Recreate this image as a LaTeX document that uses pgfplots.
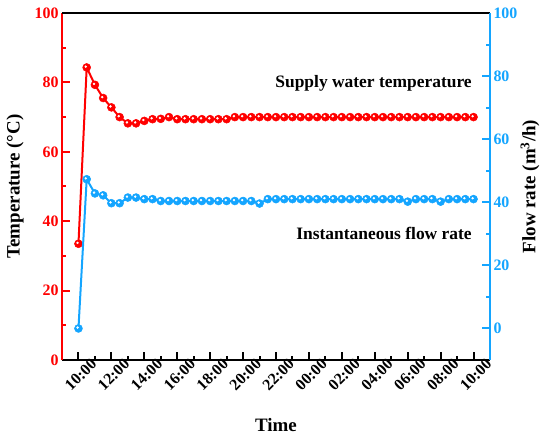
\documentclass[border=0pt]{standalone}
\usepackage{pgfplots}
\pgfplotsset{compat=1.18}
\usepackage{fontspec}
\setmainfont{Liberation Serif}
\definecolor{myred}{RGB}{255,0,0}
\definecolor{myblue}{RGB}{20,165,255}

\pgfplotstableread{
t T
0 33.5
0.5 84.3
1 79.3
1.5 75.5
2 72.8
2.5 70.0
3 68.2
3.5 68.2
4 68.9
4.5 69.4
5 69.5
5.5 70.0
6 69.4
6.5 69.4
7 69.4
7.5 69.4
8 69.4
8.5 69.4
9 69.4
9.5 70.0
10 70.0
10.5 70.0
11 70.0
11.5 70.0
12 70.0
12.5 70.0
13 70.0
13.5 70.0
14 70.0
14.5 70.0
15 70.0
15.5 70.0
16 70.0
16.5 70.0
17 70.0
17.5 70.0
18 70.0
18.5 70.0
19 70.0
19.5 70.0
20 70.0
20.5 70.0
21 70.0
21.5 70.0
22 70.0
22.5 70.0
23 70.0
23.5 70.0
24 70.0
}\temptable

\pgfplotstableread{
t F
0 0.0
0.5 47.3
1 42.8
1.5 42.2
2 39.7
2.5 39.7
3 41.5
3.5 41.5
4 41.0
4.5 41.0
5 40.4
5.5 40.4
6 40.4
6.5 40.4
7 40.4
7.5 40.4
8 40.4
8.5 40.4
9 40.4
9.5 40.4
10 40.4
10.5 40.4
11 39.6
11.5 41.0
12 41.0
12.5 41.0
13 41.0
13.5 41.0
14 41.0
14.5 41.0
15 41.0
15.5 41.0
16 41.0
16.5 41.0
17 41.0
17.5 41.0
18 41.0
18.5 41.0
19 41.0
19.5 41.0
20 40.2
20.5 41.0
21 41.0
21.5 41.0
22 40.2
22.5 41.0
23 41.0
23.5 41.0
24 41.0
}\flowtable

\begin{document}
\begin{tikzpicture}
\useasboundingbox (-62bp,-78bp) rectangle (488bp,360bp);
\begin{axis}[
  scale only axis, width=428bp, height=347bp,
  xmin=-1, xmax=25, ymin=0, ymax=100,
  axis x line*=bottom, axis y line*=left,
  xtick={0,2,...,24}, minor xtick={1,3,...,23},
  xticklabels={10:00,12:00,14:00,16:00,18:00,20:00,22:00,00:00,02:00,04:00,06:00,08:00,10:00},
  ytick={0,20,...,100}, minor ytick={10,30,...,90},
  tick align=inside,
  major tick length=8bp, minor tick length=4bp,
  xtick style={black, line width=2bp},
  ytick style={myred, line width=2bp},
  x axis line style={black, line width=2.5bp, -},
  y axis line style={myred, line width=2.5bp, -},
  /pgf/number format/assume math mode=true,
  ticklabel style={font=\fontsize{16}{16}\selectfont\bfseries},
  yticklabel style={myred},
  xticklabel style={rotate=45, anchor=east, inner sep=0pt, xshift=10bp, yshift=-12bp},
  xlabel={Time},
  ylabel={Temperature (°C)},
  every axis x label/.style={at={(axis description cs:0.5,0)}, anchor=center, yshift=-65bp, font=\fontsize{19}{19}\selectfont\bfseries},
  every axis y label/.style={at={(axis description cs:0,0.5)}, xshift=-47bp, rotate=90, anchor=center, font=\fontsize{19}{19}\selectfont\bfseries},
  clip=false,
]
\addplot[myred, line width=2bp, mark=*, mark size=4bp, mark options={fill=myred, draw=myred, line width=0.5bp}] table[x=t, y=T] {\temptable};
\addplot[white, only marks, mark=*, mark size=1bp, mark options={xshift=-0.9bp, yshift=0.9bp}] table[x=t, y=T] {\temptable};
\node[anchor=east, inner sep=0pt, font=\fontsize{17.5}{17.5}\selectfont\bfseries] at (axis cs:23.9,79.6) {Supply water temperature};
\node[anchor=east, inner sep=0pt, font=\fontsize{17.5}{17.5}\selectfont\bfseries] at (axis cs:23.9,36.6) {Instantaneous flow rate};
\end{axis}
\begin{axis}[
  scale only axis, width=428bp, height=347bp,
  xmin=-1, xmax=25, ymin=-10, ymax=100,
  axis x line*=top, axis y line*=right,
  xtick=\empty,
  ytick={0,20,...,100}, minor ytick={10,30,...,90},
  tick align=inside,
  major tick length=8bp, minor tick length=4bp,
  ytick style={myblue, line width=2bp},
  x axis line style={black, line width=2.5bp, -},
  y axis line style={myblue, line width=2.5bp, -},
  /pgf/number format/assume math mode=true,
  ticklabel style={font=\fontsize{16}{16}\selectfont\bfseries},
  yticklabel style={myblue},
  ylabel={Flow rate (m\textsuperscript{3}/h)},
  every axis y label/.style={at={(axis description cs:1,0.5)}, xshift=40bp, rotate=90, anchor=center, font=\fontsize{19}{19}\selectfont\bfseries},
  clip=false,
]
\addplot[myblue, line width=2bp, mark=*, mark size=4bp, mark options={fill=myblue, draw=myblue, line width=0.5bp}] table[x=t, y=F] {\flowtable};
\addplot[white, only marks, mark=*, mark size=1bp, mark options={xshift=-0.9bp, yshift=0.9bp}] table[x=t, y=F] {\flowtable};
\end{axis}
\end{tikzpicture}
\end{document}
